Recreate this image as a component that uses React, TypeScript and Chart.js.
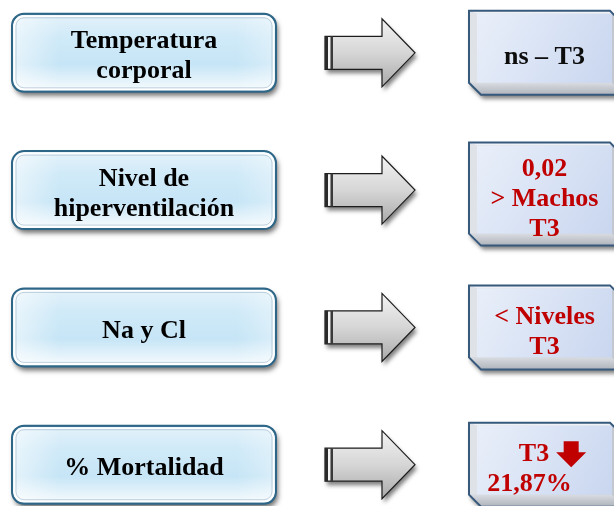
import React, { useEffect, useRef } from "react";
import { Chart, registerables } from "chart.js";

Chart.register(...registerables);

// ---- content ----
const factors: string[][] = [
  ["Temperatura", "corporal"],
  ["Nivel de", "hiperventilación"],
  ["Na y Cl"],
  ["% Mortalidad"],
];
const results: string[][] = [
  ["ns – T3"],
  ["0,02", "> Machos", "T3"],
  ["< Niveles", "T3"],
  ["T3", "21,87%"],
];
const resultHighlighted: boolean[] = [false, true, true, true];
const resultDownArrow: boolean[] = [false, false, false, true];
const rowIndex: number[] = [0, 1, 2, 3];

const FONT = 'bold 26px "Liberation Serif", "Times New Roman", serif';
const LINE_H = 30;
const CAP_H = 17;

function roundRect(ctx: CanvasRenderingContext2D, x: number, y: number, w: number, h: number, r: number) {
  ctx.beginPath();
  ctx.moveTo(x + r, y);
  ctx.arcTo(x + w, y, x + w, y + h, r);
  ctx.arcTo(x + w, y + h, x, y + h, r);
  ctx.arcTo(x, y + h, x, y, r);
  ctx.arcTo(x, y, x + w, y, r);
  ctx.closePath();
}

function poly(ctx: CanvasRenderingContext2D, pts: number[][]) {
  ctx.beginPath();
  ctx.moveTo(pts[0][0], pts[0][1]);
  for (let i = 1; i < pts.length; i++) ctx.lineTo(pts[i][0], pts[i][1]);
  ctx.closePath();
}

function drawLines(ctx: CanvasRenderingContext2D, lines: string[], cx: number, cy: number, color: string) {
  ctx.save();
  ctx.font = FONT;
  ctx.fillStyle = color;
  ctx.textAlign = "center";
  ctx.textBaseline = "alphabetic";
  const n = lines.length;
  lines.forEach((t, k) => {
    const by = cy + (k - (n - 1) / 2) * LINE_H + CAP_H / 2;
    ctx.fillText(t, cx, by);
  });
  ctx.restore();
}

function drawLeftBox(ctx: CanvasRenderingContext2D, x0: number, x1: number, cy: number) {
  const h = 78;
  const top = cy - h / 2;
  const w = x1 - x0;
  const r = 12;
  // shadow
  ctx.save();
  ctx.shadowColor = "rgba(0,0,0,0.55)";
  ctx.shadowBlur = 5;
  ctx.shadowOffsetX = 2;
  ctx.shadowOffsetY = 4;
  roundRect(ctx, x0, top, w, h, r);
  ctx.fillStyle = "#2e6688";
  ctx.fill();
  ctx.restore();
  // fill
  const g = ctx.createLinearGradient(0, top, 0, top + h);
  g.addColorStop(0, "#e4f2fa");
  g.addColorStop(0.3, "#d0eaf8");
  g.addColorStop(0.65, "#c6e5f6");
  g.addColorStop(0.88, "#e7f4fb");
  g.addColorStop(1, "#f8fcfe");
  roundRect(ctx, x0 + 1, top + 1, w - 2, h - 2, r - 1);
  ctx.fillStyle = g;
  ctx.fill();
  const g2 = ctx.createLinearGradient(x0, 0, x1, 0);
  g2.addColorStop(0, "rgba(255,255,255,0.55)");
  g2.addColorStop(0.18, "rgba(255,255,255,0)");
  g2.addColorStop(0.85, "rgba(255,255,255,0)");
  g2.addColorStop(1, "rgba(255,255,255,0.35)");
  ctx.fillStyle = g2;
  ctx.fill();
  // borders
  roundRect(ctx, x0, top, w, h, r);
  ctx.strokeStyle = "#2e6688";
  ctx.lineWidth = 2;
  ctx.stroke();
  roundRect(ctx, x0 + 2.5, top + 2.5, w - 5, h - 5, r - 2.5);
  ctx.strokeStyle = "rgba(255,255,255,0.95)";
  ctx.lineWidth = 1.6;
  ctx.stroke();
  roundRect(ctx, x0 + 4, top + 4, w - 8, h - 8, r - 4);
  ctx.strokeStyle = "rgba(130,160,185,0.45)";
  ctx.lineWidth = 1;
  ctx.stroke();
}

function drawArrow(ctx: CanvasRenderingContext2D, xs: number, xh: number, xt: number, cy: number) {
  const sh = 16.5;
  const hh = 34;
  const pts = [
    [xs, cy - sh], [xh, cy - sh], [xh, cy - hh], [xt, cy],
    [xh, cy + hh], [xh, cy + sh], [xs, cy + sh],
  ];
  ctx.save();
  ctx.shadowColor = "rgba(0,0,0,0.5)";
  ctx.shadowBlur = 4;
  ctx.shadowOffsetX = 2;
  ctx.shadowOffsetY = 4;
  poly(ctx, pts);
  ctx.fillStyle = "#cfcfcf";
  ctx.fill();
  ctx.restore();
  const g = ctx.createLinearGradient(0, cy - hh, 0, cy + hh);
  g.addColorStop(0, "#f2f2f2");
  g.addColorStop(0.5, "#d6d6d6");
  g.addColorStop(1, "#a9a9a9");
  poly(ctx, pts);
  ctx.fillStyle = g;
  ctx.fill();
  ctx.strokeStyle = "#1c1c1c";
  ctx.lineWidth = 1.2;
  ctx.stroke();
  // stripes at tail
  ctx.fillStyle = "#2a2a2a";
  ctx.fillRect(xs, cy - sh, 3, sh * 2);
  ctx.fillStyle = "#f4f4f4";
  ctx.fillRect(xs + 3, cy - sh + 1, 2.5, sh * 2 - 2);
  ctx.fillStyle = "#3a3a3a";
  ctx.fillRect(xs + 5.5, cy - sh, 2.5, sh * 2);
}

function drawRightBox(ctx: CanvasRenderingContext2D, x0: number, x1: number, cy: number, h: number) {
  const top = cy - h / 2;
  const bottom = top + h;
  const c = 12;
  const fx0 = x0 + 8;
  const fx1 = x1 - 10;
  const fy0 = top + 3;
  const fy1 = bottom - 12;
  const outer = [
    [x0, top], [x1 - c, top], [x1, top + c], [x1, bottom], [x0 + c, bottom], [x0, bottom - c],
  ];
  ctx.save();
  ctx.shadowColor = "rgba(0,0,0,0.5)";
  ctx.shadowBlur = 4;
  ctx.shadowOffsetX = 2;
  ctx.shadowOffsetY = 4;
  poly(ctx, outer);
  ctx.fillStyle = "#d0d4da";
  ctx.fill();
  ctx.restore();
  // bevels
  poly(ctx, [[x0, top], [x0, bottom - c], [fx0, fy1], [fx0, fy0]]);
  ctx.fillStyle = "#dfe2e7";
  ctx.fill();
  poly(ctx, [[x0, top], [x1 - c, top], [fx1, fy0], [fx0, fy0]]);
  ctx.fillStyle = "#eef1f6";
  ctx.fill();
  const gb = ctx.createLinearGradient(0, fy1, 0, bottom);
  gb.addColorStop(0, "#d9dce1");
  gb.addColorStop(1, "#aeb3bb");
  poly(ctx, [[x0, bottom - c], [x0 + c, bottom], [x1, bottom], [fx1, fy1], [fx0, fy1]]);
  ctx.fillStyle = gb;
  ctx.fill();
  poly(ctx, [[x1 - c, top], [x1, top + c], [x1, bottom], [fx1, fy1], [fx1, fy0]]);
  ctx.fillStyle = "#c3c8d0";
  ctx.fill();
  // face
  const gf = ctx.createLinearGradient(fx0, fy0, fx1, fy1);
  gf.addColorStop(0, "#e9eff9");
  gf.addColorStop(0.5, "#d9e3f5");
  gf.addColorStop(1, "#c9d6ef");
  ctx.fillStyle = gf;
  ctx.fillRect(fx0, fy0, fx1 - fx0, fy1 - fy0);
  // outline
  poly(ctx, outer);
  ctx.strokeStyle = "#36597c";
  ctx.lineWidth = 2;
  ctx.stroke();
  return { cx: (fx0 + fx1) / 2, top, bottom };
}

function drawDownArrow(ctx: CanvasRenderingContext2D, x: number, yTop: number, color: string) {
  // x = left edge of arrow head
  const w = 30;
  const sw = 15;
  const shH = 11;
  const hdH = 15;
  const cx = x + w / 2;
  poly(ctx, [
    [cx - sw / 2, yTop], [cx + sw / 2, yTop], [cx + sw / 2, yTop + shH], [x + w, yTop + shH],
    [cx, yTop + shH + hdH], [x, yTop + shH], [cx - sw / 2, yTop + shH],
  ]);
  ctx.fillStyle = color;
  ctx.fill();
}

const diagramPlugin = {
  id: "diagram",
  afterDatasetsDraw(chart: any) {
    const ctx: CanvasRenderingContext2D = chart.ctx;
    const xs = chart.scales.x;
    const ys = chart.scales.y;
    const px = (v: number) => xs.getPixelForValue(v);
    rowIndex.forEach((i) => {
      const cy = ys.getPixelForValue(i);
      // left box
      drawLeftBox(ctx, px(12), px(276), cy);
      drawLines(ctx, factors[i], px(144), cy + 2, "#000000");
      // arrow
      drawArrow(ctx, px(325), px(382), px(415), cy);
      // right box
      const n = results[i].length;
      const h = n >= 3 ? 103 : 84;
      const bcy = cy + (n >= 3 ? 4 : 0);
      const box = drawRightBox(ctx, px(469), px(622), bcy, h);
      const color = resultHighlighted[i] ? "#c00000" : "#0d0d0d";
      if (resultDownArrow[i]) {
        const tcy = bcy + 3;
        ctx.save();
        ctx.font = FONT;
        ctx.fillStyle = color;
        ctx.textBaseline = "alphabetic";
        const w1 = ctx.measureText(results[i][0]).width;
        const groupW = w1 + 7 + 30;
        const gx = box.cx + 8 - groupW / 2;
        const b1 = tcy - LINE_H / 2 + CAP_H / 2;
        ctx.textAlign = "left";
        ctx.fillText(results[i][0], gx, b1);
        drawDownArrow(ctx, gx + w1 + 7, b1 - CAP_H - 3, color);
        ctx.fillStyle = color;
        ctx.textAlign = "center";
        ctx.fillText(results[i][1], box.cx - 15, tcy + LINE_H / 2 + CAP_H / 2);
        ctx.restore();
      } else {
        drawLines(ctx, results[i], box.cx, bcy + 3, color);
      }
    });
  },
};

export default function App() {
  const ref = useRef<HTMLCanvasElement | null>(null);
  useEffect(() => {
    document.body.style.margin = "0";
    document.body.style.background = "#ffffff";
    const canvas = ref.current;
    if (!canvas) return;
    const chart = new Chart(canvas, {
      type: "scatter",
      data: {
        datasets: [
          {
            data: rowIndex.map((i) => ({ x: 0, y: i })),
            pointRadius: 0,
            showLine: false,
          },
        ],
      },
      options: {
        responsive: false,
        animation: false,
        layout: { padding: 0 },
        events: [],
        plugins: { legend: { display: false }, tooltip: { enabled: false } },
        scales: {
          x: { type: "linear", min: 0, max: 614, display: false },
          y: { type: "linear", min: -0.3846, max: 3.3008, reverse: true, display: false },
        },
      },
      plugins: [diagramPlugin],
    } as any);
    return () => chart.destroy();
  }, []);
  return (
    <div style={{ position: "fixed", left: 0, top: 0, width: 614, height: 506, background: "#fff" }}>
      <canvas ref={ref} width={614} height={506} style={{ display: "block", width: 614, height: 506 }} />
    </div>
  );
}
